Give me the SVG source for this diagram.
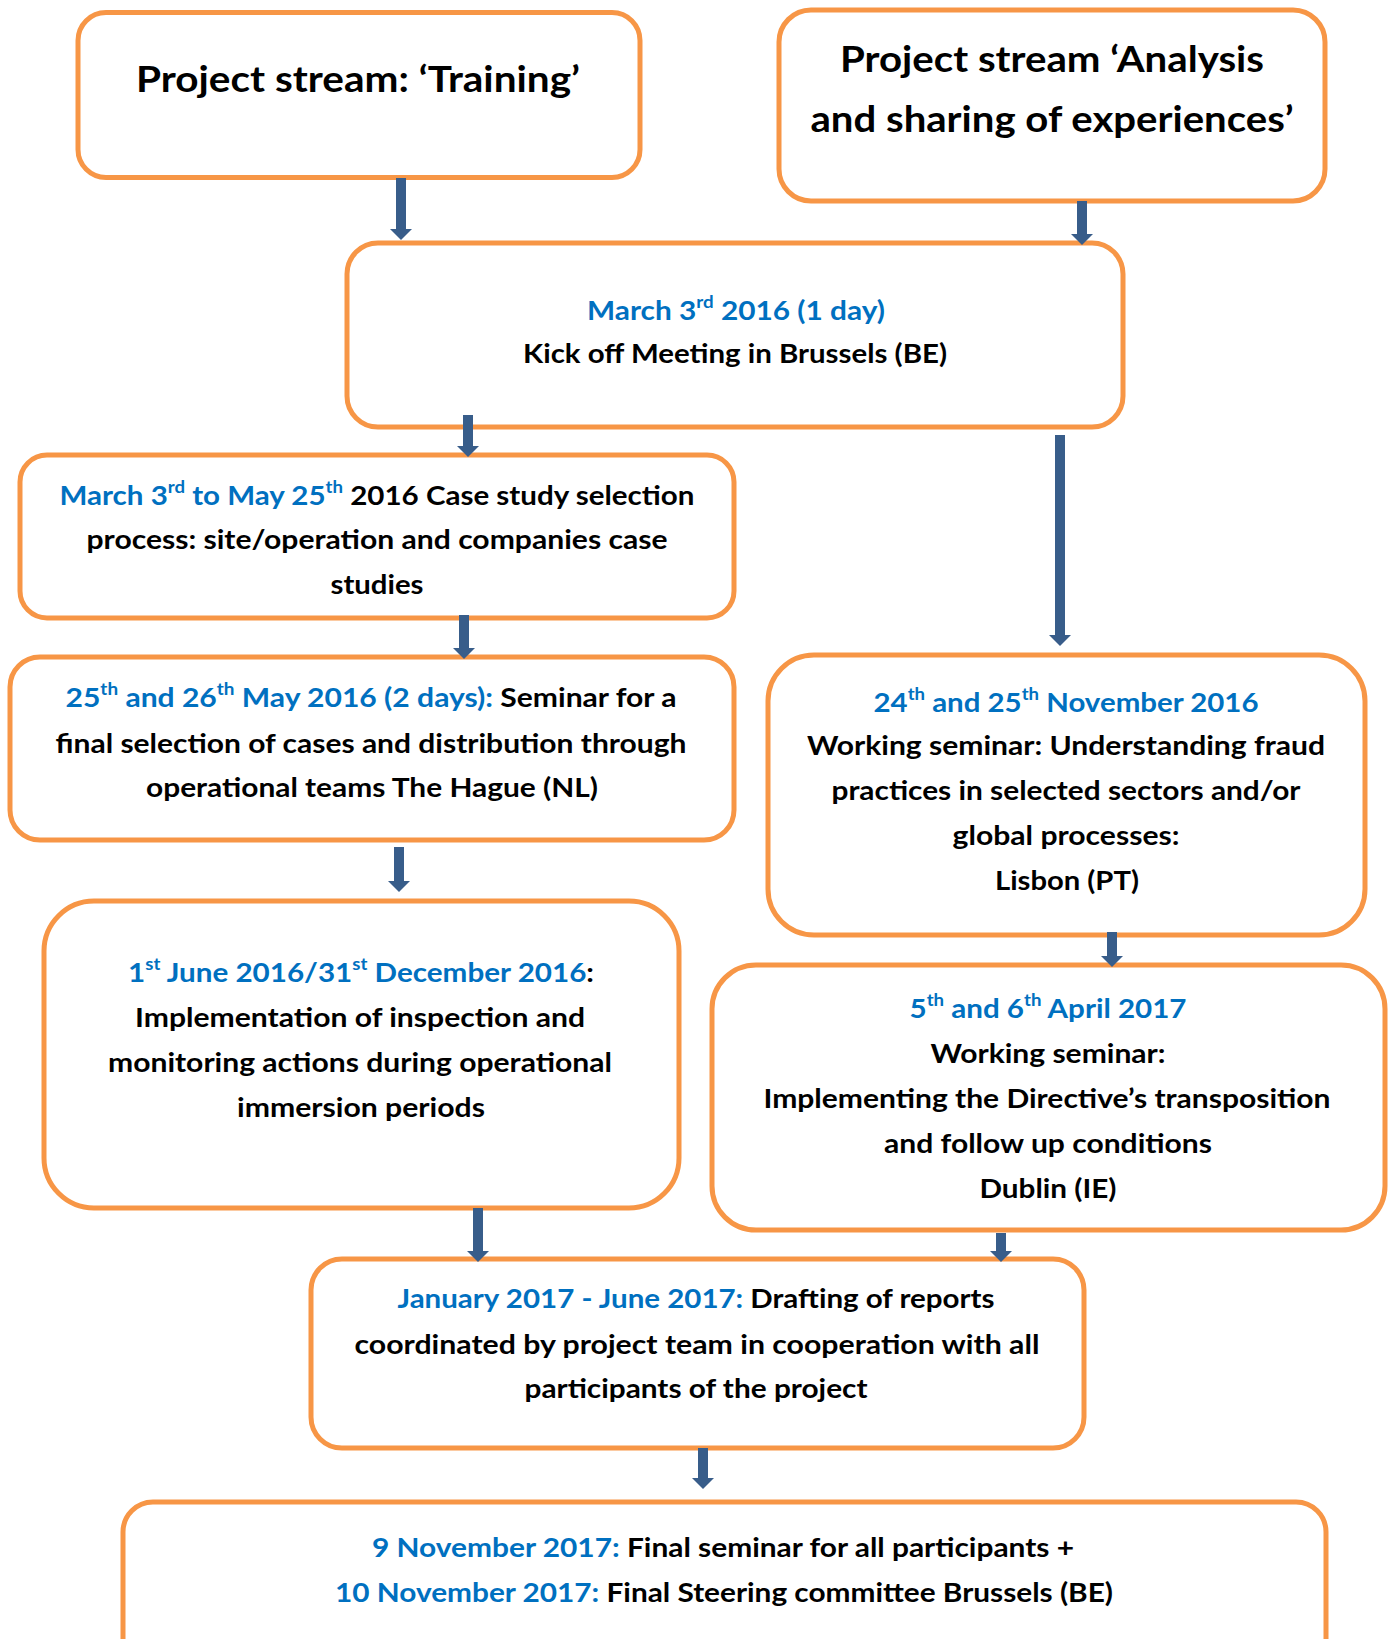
<svg xmlns="http://www.w3.org/2000/svg" width="1395" height="1639" viewBox="0 0 1395 1639">
<style>
.box{fill:#fff;stroke:#F79646;stroke-width:5}
.t{font-family:Lato,"Liberation Sans",sans-serif;font-weight:700;font-size:27px;fill:#000;text-anchor:middle}
.title{font-size:37px}
.b{fill:#0070C0}
.sup{font-size:17px}
.conn{stroke:#385D8A;stroke-width:10;fill:none;marker-end:url(#ah)}
</style>
<defs>
<marker id="ah" markerUnits="userSpaceOnUse" markerWidth="11" markerHeight="22" refX="0" refY="11" orient="auto" viewBox="0 0 11 22"><path d="M0,0 L11,11 L0,22 z" fill="#385D8A"/></marker>
</defs>
<rect width="1395" height="1639" fill="#fff"/>

<g id="training">
<rect class="box" x="78" y="12.5" width="562" height="165" rx="28"/>
<text class="t title" x="358" y="92" textLength="444" lengthAdjust="spacingAndGlyphs">Project stream: ‘Training’</text>
</g>

<g id="analysis">
<rect class="box" x="779" y="10" width="546" height="191" rx="32"/>
<text class="t title" x="1052" y="72" textLength="424" lengthAdjust="spacingAndGlyphs">Project stream ‘Analysis</text>
<text class="t title" x="1052" y="132" textLength="483" lengthAdjust="spacingAndGlyphs">and sharing of experiences’</text>
</g>

<g id="kickoff">
<rect class="box" x="347" y="243" width="776" height="184" rx="31"/>
<text class="t b" x="736" y="320" textLength="298" lengthAdjust="spacingAndGlyphs">March 3<tspan class="sup" dy="-12">rd</tspan><tspan dy="12"> 2016 (1 day)</tspan></text>
<text class="t" x="735" y="363" textLength="424" lengthAdjust="spacingAndGlyphs">Kick off Meeting in Brussels (BE)</text>
</g>

<g id="casestudy">
<rect class="box" x="20" y="455" width="714" height="163" rx="27"/>
<text class="t" x="377" y="505" textLength="635" lengthAdjust="spacingAndGlyphs"><tspan class="b">March 3</tspan><tspan class="b sup" dy="-12">rd</tspan><tspan class="b" dy="12"> to May 25</tspan><tspan class="b sup" dy="-12">th</tspan><tspan dy="12"> 2016 Case study selection</tspan></text>
<text class="t" x="377" y="549" textLength="581" lengthAdjust="spacingAndGlyphs">process: site/operation and companies case</text>
<text class="t" x="377" y="594" textLength="93" lengthAdjust="spacingAndGlyphs">studies</text>
</g>

<g id="seminar">
<rect class="box" x="10" y="657" width="724" height="183" rx="30"/>
<text class="t" x="371" y="707" textLength="611" lengthAdjust="spacingAndGlyphs"><tspan class="b">25</tspan><tspan class="b sup" dy="-12">th</tspan><tspan class="b" dy="12"> and 26</tspan><tspan class="b sup" dy="-12">th</tspan><tspan class="b" dy="12"> May 2016 (2 days):</tspan><tspan> Seminar for a</tspan></text>
<text class="t" x="371" y="753" textLength="631" lengthAdjust="spacingAndGlyphs">final selection of cases and distribution through</text>
<text class="t" x="372" y="797" textLength="452" lengthAdjust="spacingAndGlyphs">operational teams The Hague (NL)</text>
</g>

<g id="november">
<rect class="box" x="768" y="655" width="597" height="280" rx="46"/>
<text class="t b" x="1066" y="712" textLength="385" lengthAdjust="spacingAndGlyphs">24<tspan class="sup" dy="-12">th</tspan><tspan dy="12"> and 25</tspan><tspan class="sup" dy="-12">th</tspan><tspan dy="12"> November 2016</tspan></text>
<text class="t" x="1066" y="755" textLength="518" lengthAdjust="spacingAndGlyphs">Working seminar: Understanding fraud</text>
<text class="t" x="1066" y="800" textLength="469" lengthAdjust="spacingAndGlyphs">practices in selected sectors and/or</text>
<text class="t" x="1066" y="845" textLength="227" lengthAdjust="spacingAndGlyphs">global processes:</text>
<text class="t" x="1067" y="890" textLength="144" lengthAdjust="spacingAndGlyphs">Lisbon (PT)</text>
</g>

<g id="implementation">
<rect class="box" x="44" y="901" width="635" height="307" rx="50"/>
<text class="t" x="361" y="982" textLength="466" lengthAdjust="spacingAndGlyphs"><tspan class="b">1</tspan><tspan class="b sup" dy="-12">st</tspan><tspan class="b" dy="12"> June 2016/31</tspan><tspan class="b sup" dy="-12">st</tspan><tspan class="b" dy="12">  December 2016</tspan><tspan>:</tspan></text>
<text class="t" x="360" y="1027" textLength="450" lengthAdjust="spacingAndGlyphs">Implementation of inspection and</text>
<text class="t" x="360" y="1072" textLength="504" lengthAdjust="spacingAndGlyphs">monitoring actions during operational</text>
<text class="t" x="361" y="1117" textLength="248" lengthAdjust="spacingAndGlyphs">immersion periods</text>
</g>

<g id="april">
<rect class="box" x="712" y="965" width="673" height="265" rx="44"/>
<text class="t b" x="1048" y="1018" textLength="277" lengthAdjust="spacingAndGlyphs">5<tspan class="sup" dy="-12">th</tspan><tspan dy="12"> and 6</tspan><tspan class="sup" dy="-12">th</tspan><tspan dy="12"> April 2017</tspan></text>
<text class="t" x="1048" y="1063" textLength="235" lengthAdjust="spacingAndGlyphs">Working seminar:</text>
<text class="t" x="1047" y="1108" textLength="567" lengthAdjust="spacingAndGlyphs">Implementing the Directive’s transposition</text>
<text class="t" x="1048" y="1153" textLength="328" lengthAdjust="spacingAndGlyphs">and follow up conditions</text>
<text class="t" x="1048" y="1198" textLength="137" lengthAdjust="spacingAndGlyphs">Dublin (IE)</text>
</g>

<g id="drafting">
<rect class="box" x="311" y="1259" width="773" height="189" rx="31"/>
<text class="t" x="696" y="1308" textLength="597" lengthAdjust="spacingAndGlyphs"><tspan class="b">January 2017 - June 2017:</tspan> Drafting of reports</text>
<text class="t" x="697" y="1354" textLength="685" lengthAdjust="spacingAndGlyphs">coordinated by project team in cooperation with all</text>
<text class="t" x="696" y="1398" textLength="343" lengthAdjust="spacingAndGlyphs">participants of the project</text>
</g>

<g id="final">
<rect class="box" x="123" y="1502" width="1203" height="180" rx="30"/>
<text class="t" x="723" y="1557" textLength="702" lengthAdjust="spacingAndGlyphs"><tspan class="b">9 November 2017:</tspan> Final seminar for all participants +</text>
<text class="t" x="724" y="1602" textLength="778" lengthAdjust="spacingAndGlyphs"><tspan class="b">10 November 2017:</tspan> Final Steering committee Brussels (BE)</text>
</g>

<g id="connectors">
<line class="conn" x1="401" y1="178" x2="401" y2="229"/>
<line class="conn" x1="1082" y1="201" x2="1082" y2="234"/>
<line class="conn" x1="468" y1="415" x2="468" y2="446"/>
<line class="conn" x1="1060" y1="435" x2="1060" y2="635"/>
<line class="conn" x1="464" y1="615" x2="464" y2="648"/>
<line class="conn" x1="399" y1="847" x2="399" y2="881"/>
<line class="conn" x1="1112" y1="932" x2="1112" y2="956"/>
<line class="conn" x1="478" y1="1208" x2="478" y2="1251"/>
<line class="conn" x1="1001" y1="1233" x2="1001" y2="1251"/>
<line class="conn" x1="703" y1="1448" x2="703" y2="1478"/>
</g>
</svg>
